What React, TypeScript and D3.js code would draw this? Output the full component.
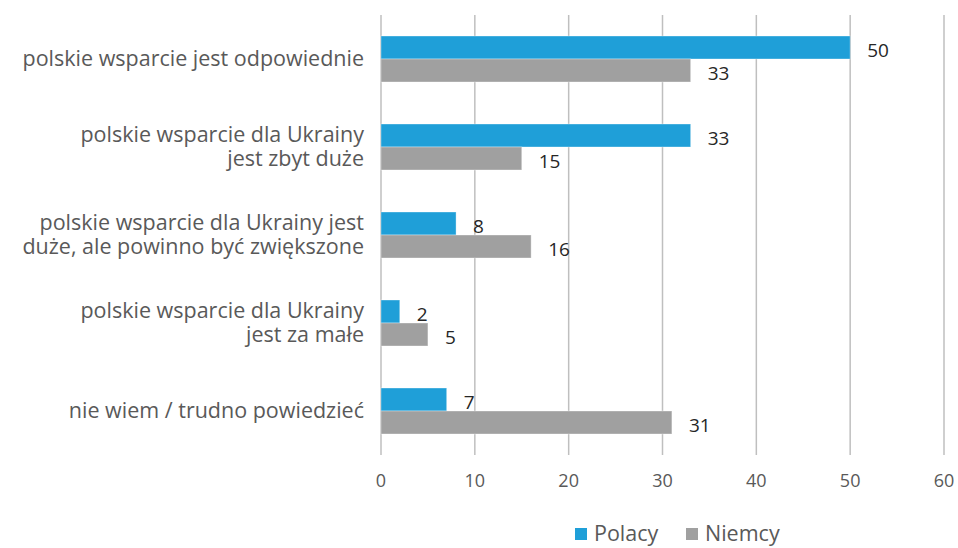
import React from "react";
import * as d3 from "d3";

const categories: string[][] = [
  ["polskie wsparcie jest odpowiednie"],
  ["polskie wsparcie dla Ukrainy", "jest zbyt duże"],
  ["polskie wsparcie dla Ukrainy jest", "duże, ale powinno być zwiększone"],
  ["polskie wsparcie dla Ukrainy", "jest za małe"],
  ["nie wiem / trudno powiedzieć"],
];
const polacy = [50, 33, 8, 2, 7];
const niemcy = [33, 15, 16, 5, 31];
const seriesNames = ["Polacy", "Niemcy"];
const xTicks = [0, 10, 20, 30, 40, 50, 60];

const W = 958;
const H = 548;
const margin = { left: 381, right: 14, top: 15, bottom: 93 };
const colors = ["#1f9fd8", "#a0a0a0"];
const FONT = "'Open Sans', 'Noto Sans', sans-serif";

export default function App() {
  const x = d3.scaleLinear().domain([0, 60]).range([margin.left, 944]);
  const y = d3
    .scaleBand<number>()
    .domain(d3.range(categories.length))
    .range([margin.top, H - margin.bottom]);
  const barH = 23;
  const series = [polacy, niemcy];
  return (
    <svg
      width={W}
      height={H}
      style={{ position: "absolute", left: 0, top: 0, background: "#fff" }}
      fontFamily={FONT}
    >
      {xTicks.map((t) => (
        <g key={t}>
          <line
            x1={x(t)}
            x2={x(t)}
            y1={margin.top}
            y2={H - margin.bottom}
            stroke="#bfbfbf"
            strokeWidth={1.5}
          />
          <text
            x={x(t)}
            y={487}
            textAnchor="middle"
            fontSize={18}
            fill="#595959"
          >
            {t}
          </text>
        </g>
      ))}
      {categories.map((lines, i) => {
        const cy = (y(i) as number) + y.bandwidth() / 2;
        const lh = 24.5;
        const startY = cy - ((lines.length - 1) * lh) / 2;
        return (
          <g key={i}>
            <text
              x={364}
              textAnchor="end"
              fontSize={21.5}
              fill="#595959"
            >
              {lines.map((l, j) => (
                <tspan key={j} x={364} y={startY + j * lh + 7}>
                  {l}
                </tspan>
              ))}
            </text>
            {series.map((s, k) => {
              const by = cy - barH + k * barH;
              return (
                <g key={k}>
                  <rect
                    x={x(0)}
                    y={by}
                    width={x(s[i]) - x(0)}
                    height={barH}
                    fill={colors[k]}
                    stroke="#ffffff"
                    strokeOpacity={0.35}
                    strokeWidth={1}
                  />
                  <text
                    x={x(s[i]) + 17}
                    y={by + barH / 2 + 9}
                    fontSize={19}
                    fill="#262626"
                  >
                    {s[i]}
                  </text>
                </g>
              );
            })}
          </g>
        );
      })}
      {seriesNames.map((n, k) => {
        const lx = [575, 686][k];
        return (
          <g key={n}>
            <rect x={lx} y={528} width={12} height={12} fill={colors[k]} />
            <text x={lx + 19} y={541} fontSize={21.5} fill="#595959">
              {n}
            </text>
          </g>
        );
      })}
    </svg>
  );
}
